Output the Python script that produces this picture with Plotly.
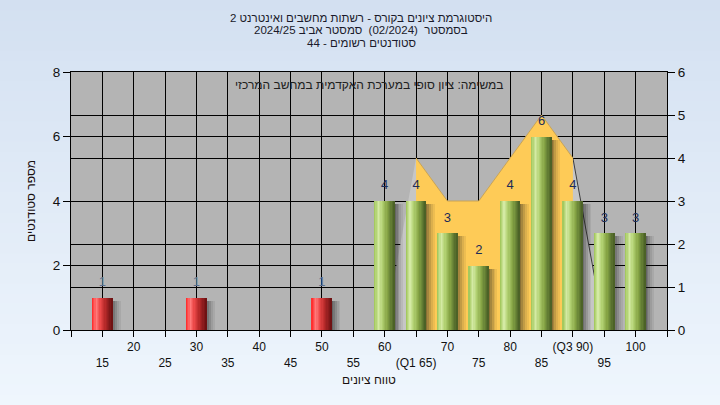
import plotly.graph_objects as go

# ---------------- data ----------------
BINS = [15, 20, 25, 30, 35, 40, 45, 50, 55, 60, 65, 70, 75, 80, 85, 90, 95, 100]
COUNTS = [1, 0, 0, 1, 0, 0, 0, 1, 0, 4, 4, 3, 2, 4, 6, 4, 3, 3]
TICK_LABELS = ["15", "20", "25", "30", "35", "40", "45", "50", "55", "60",
               "(Q1 65)", "70", "75", "80", "85", "(Q3 90)", "95", "100"]
CURVE_X = [60, 65, 70, 75, 80, 85, 90, 95]
CURVE_Y = [0, 4, 3, 3, 4, 5, 4, 0]
Q1, Q3 = 65, 90
PASS_MIN = 56

TITLE_LINES = [
    "היסטוגרמת ציונים בקורס - רשתות מחשבים ואינטרנט 2",
    "בסמסטר  (02/2024)  סמסטר אביב 2024/25",
    "סטודנטים רשומים - 44",
]
NOTE = "במשימה: ציון סופי במערכת האקדמית במחשב המרכזי"
X_TITLE = "טווח ציונים"
Y_TITLE = "מספר סטודנטים"

FONT = "Liberation Sans, DejaVu Sans, Arial, sans-serif"


def hex2rgb(h):
    h = h.lstrip("#")
    return tuple(int(h[i:i + 2], 16) for i in (0, 2, 4))


def interp(stops, t):
    for (p0, c0), (p1, c1) in zip(stops, stops[1:]):
        if p0 <= t <= p1:
            f = (t - p0) / (p1 - p0) if p1 > p0 else 0
            a, b = hex2rgb(c0), hex2rgb(c1)
            return "rgb(%d,%d,%d)" % tuple(round(a[i] + (b[i] - a[i]) * f) for i in range(3))
    return stops[-1][1]


GREEN = [(0, "#9cc453"), (0.22, "#d4eaa4"), (0.4, "#b2d172"), (0.65, "#86a445"),
         (0.88, "#5b7430"), (1.0, "#475c24")]
RED = [(0, "#ff2424"), (0.22, "#ff7a7a"), (0.4, "#ec4a4a"), (0.65, "#b82a2a"),
       (0.88, "#84191a"), (1.0, "#681010")]

bx = [b for b, c in zip(BINS, COUNTS) if c > 0]
by = [c for c in COUNTS if c > 0]
is_pass = [b >= PASS_MIN for b in bx]

fig = go.Figure()

# ---- frequency polygon (right axis, primary y) ----
fig.add_trace(go.Scatter(x=CURVE_X, y=CURVE_Y, mode="lines", fill="tozeroy",
                         fillcolor="#c6c6c6", line=dict(width=0), yaxis="y",
                         hoverinfo="skip", showlegend=False))
fig.add_trace(go.Scatter(x=CURVE_X[-2:], y=CURVE_Y[-2:], mode="lines",
                         line=dict(color="#3c3c3c", width=1), yaxis="y",
                         hoverinfo="skip", showlegend=False))
qx = [x for x in CURVE_X if Q1 <= x <= Q3]
qy = [y for x, y in zip(CURVE_X, CURVE_Y) if Q1 <= x <= Q3]
fig.add_trace(go.Scatter(x=qx, y=qy, mode="lines", fill="tozeroy",
                         fillcolor="#fecb57", line=dict(color="#c9a455", width=1),
                         yaxis="y", hoverinfo="skip", showlegend=False))

# ---- bars (left axis, y2) ----
W = 3.2
SH = [0.5, 0.38, 0.26, 0.15, 0.07]
sw = 0.3
for k, a in enumerate(SH):
    fig.add_trace(go.Bar(x=bx, y=[v - 0.1 for v in by], offset=W / 2 - 0.15 + k * sw,
                         width=sw, marker=dict(color="rgba(20,20,20,%.2f)" % a, line=dict(width=0)),
                         yaxis="y2", hoverinfo="skip", showlegend=False))
N = 16
for i in range(N):
    t = (i + 0.5) / N
    cols = [interp(GREEN if p else RED, t) for p in is_pass]
    fig.add_trace(go.Bar(x=bx, y=by, offset=-W / 2 + i * W / N, width=W / N + 0.02,
                         marker=dict(color=cols, line=dict(width=0)), yaxis="y2",
                         hoverinfo="skip", showlegend=False))

# value labels
fig.add_trace(go.Scatter(x=bx, y=by, mode="markers+text", text=[str(v) for v in by],
                         textposition="top center",
                         marker=dict(size=12, opacity=0),
                         textfont=dict(family=FONT, size=13,
                                       color=["#1c2c58" if p else "#5a6d8e" for p in is_pass]),
                         yaxis="y2", cliponaxis=False, hoverinfo="skip", showlegend=False))

# ---- axes ----
tickvals = [10] + BINS + [105]
ticktext = [""] + [(lab if (b // 5) % 2 == 0 else "<br>" + lab) for b, lab in zip(BINS, TICK_LABELS)] + [""]

shapes = []
top, bot = hex2rgb("#d3e0f1"), hex2rgb("#eff6fd")
NS = 40
H = 405.0
pt, pb = 72.0, 330.0
for s in range(NS):
    y0p = s * H / NS
    y1p = (s + 1) * H / NS + 1
    f = (s + 0.5) / NS
    col = "rgb(%d,%d,%d)" % tuple(round(top[i] + (bot[i] - top[i]) * f) for i in range(3))
    shapes.append(dict(type="rect", xref="paper", yref="paper", x0=-0.3, x1=1.3,
                       y0=(pb - y1p) / (pb - pt), y1=(pb - y0p) / (pb - pt),
                       fillcolor=col, line=dict(width=0), layer="below"))
shapes.append(dict(type="rect", xref="paper", yref="paper", x0=0, x1=1, y0=0, y1=1,
                   fillcolor="#b4b4b4", line=dict(width=0), layer="below"))

annotations = []
for txt, ypx in zip(TITLE_LINES, [17.5, 30, 42.5]):
    annotations.append(dict(text=txt, xref="paper", yref="paper", x=(361 - 71) / 596.0,
                            y=(pb - ypx) / (pb - pt), xanchor="center", yanchor="middle",
                            showarrow=False, font=dict(family=FONT, size=11.5, color="#1a1a2a")))
annotations.append(dict(text=NOTE, xref="paper", yref="paper", x=0.5, y=(pb - 85) / (pb - pt),
                        xanchor="center", yanchor="middle", showarrow=False,
                        font=dict(family=FONT, size=12, color="#202020")))

fig.update_layout(
    width=720, height=405,
    margin=dict(l=71, r=53, t=72, b=75),
    paper_bgcolor="#e2ecf8", plot_bgcolor="#b4b4b4",
    barmode="overlay", bargap=0,
    font=dict(family=FONT, color="#111111"),
    showlegend=False,
    shapes=shapes,
    annotations=annotations,
    xaxis=dict(range=[10, 105], tickmode="array", tickvals=tickvals, ticktext=ticktext,
               showgrid=True, gridcolor="black", gridwidth=1, zeroline=False,
               showline=True, linecolor="black", linewidth=1, mirror=True,
               ticks="outside", ticklen=6, tickcolor="black",
               tickfont=dict(family=FONT, size=12, color="#111111"),
               title=dict(text=X_TITLE, font=dict(family=FONT, size=12, color="#1a1010"), standoff=6)),
    yaxis=dict(range=[0, 6], side="right", dtick=1, showgrid=True, gridcolor="black",
               gridwidth=1, zeroline=False, showline=True, linecolor="black", linewidth=1,
               ticks="outside", ticklen=7, tickcolor="black",
               tickfont=dict(family=FONT, size=13.5, color="#111111")),
    yaxis2=dict(range=[0, 8], side="left", overlaying="y", dtick=2, showgrid=True,
                gridcolor="black", gridwidth=1, zeroline=False, showline=True,
                linecolor="black", linewidth=1, ticks="outside", ticklen=7, tickcolor="black",
                tickfont=dict(family=FONT, size=13.5, color="#111111"),
                title=dict(text=Y_TITLE, font=dict(family=FONT, size=12, color="#1a1010"), standoff=14)),
)

fig.write_html("out.html", config={"displayModeBar": False},
               post_script="document.body.style.margin='0';")
